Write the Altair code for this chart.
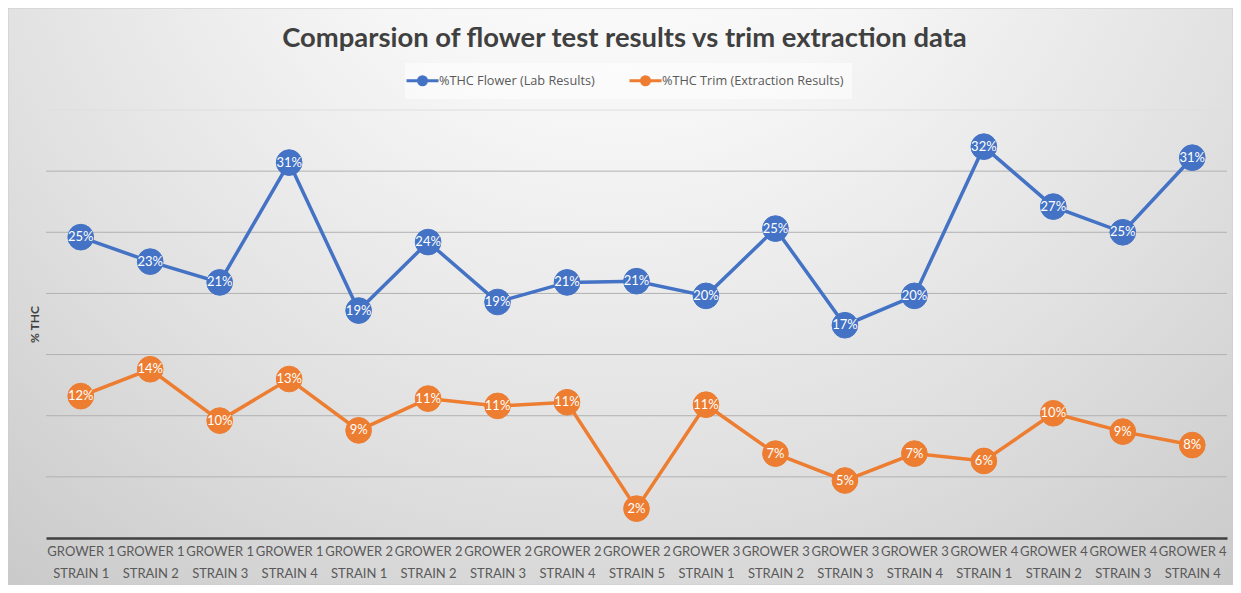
import altair as alt
import pandas as pd

# ---- data ----
growers = ["GROWER 1"] * 4 + ["GROWER 2"] * 5 + ["GROWER 3"] * 4 + ["GROWER 4"] * 4
strains = ["STRAIN 1", "STRAIN 2", "STRAIN 3", "STRAIN 4",
           "STRAIN 1", "STRAIN 2", "STRAIN 3", "STRAIN 4", "STRAIN 5",
           "STRAIN 1", "STRAIN 2", "STRAIN 3", "STRAIN 4",
           "STRAIN 1", "STRAIN 2", "STRAIN 3", "STRAIN 4"]
flower = [24.6, 22.6, 20.9, 30.7, 18.6, 24.2, 19.3, 20.9, 21.0, 19.8,
          25.3, 17.4, 19.8, 32.0, 27.1, 25.0, 31.1]
trim = [11.6, 13.8, 9.6, 13.0, 8.8, 11.4, 10.8, 11.1, 2.4, 10.9,
        6.9, 4.7, 6.9, 6.3, 10.2, 8.7, 7.6]
series_names = ["%THC Flower (Lab Results)", "%THC Trim (Extraction Results)"]
series_colors = ["#4472C4", "#ED7D31"]
grid_values = [5, 10, 15, 20, 25, 30, 35]
title_text = "Comparsion of flower test results vs trim extraction data"

categories = [f"{g}|{s}" for g, s in zip(growers, strains)]
n = len(categories)
df = pd.DataFrame({
    "category": categories * 2,
    "series": [series_names[0]] * n + [series_names[1]] * n,
    "value": flower + trim,
})
grid_df = pd.DataFrame({"g": grid_values})
bg_df = pd.DataFrame({"bg": [0]})

W, H = 1181, 428
PAD = {"left": 38, "top": 102, "right": 6, "bottom": 47}

y_scale = alt.Scale(domain=[0, 35], nice=False, zero=True)
y_axis = alt.Axis(title="% THC", labels=False, ticks=False, domain=False, grid=False,
                  titleFont="Lato", titleFontSize=12, titleFontWeight="bold",
                  titleColor="#404040", titlePadding=5, zindex=1)
x_enc = alt.X("category:N", sort=categories,
              scale=alt.Scale(type="point", padding=0.5),
              axis=alt.Axis(title=None, labelExpr="split(datum.label, '|')", labelAngle=0,
                            ticks=False, domainColor="#404040", domainWidth=2.5,
                            labelColor="#595959", labelFont="Lato", labelFontSize=13,
                            labelPadding=7, labelLineHeight=22, labelOverlap=False,
                            labelLimit=200, zindex=1))

color_scale = alt.Scale(domain=series_names, range=series_colors)
# line segment with a dot, drawn wider than its layout box
legend_path = ("M-2,0L2,0M-0.5,0A0.5,0.5,0,1,1,0.5,0"
               "A0.5,0.5,0,1,1,-0.5,0Z")
legend = alt.Legend(title=None, orient="none", legendX=359, legendY=-47,
                    direction="horizontal", symbolType=legend_path, symbolSize=256,
                    symbolStrokeWidth=3, labelFont="Open Sans", labelFontSize=12.7,
                    labelColor="#595959", columnPadding=28, padding=8,
                    fillColor="rgba(255,255,255,0.5)", labelOffset=7,
                    labelLimit=400, zindex=1)

gradient = {
    "gradient": "radial",
    "x1": 0.5, "y1": 0.1, "r1": 0,
    "x2": 0.5, "y2": 0.1, "r2": 0.85,
    "stops": [
        {"offset": 0, "color": "#ffffff"},
        {"offset": 0.3, "color": "#f6f6f6"},
        {"offset": 0.65, "color": "#e0e0e0"},
        {"offset": 1, "color": "#c6c6c6"},
    ],
}

bg = alt.Chart(bg_df).mark_rect(fill=gradient, stroke="#cccccc", strokeWidth=1).encode(
    x=alt.value(-PAD["left"]), x2=alt.value(W + PAD["right"]),
    y=alt.value(-PAD["top"]), y2=alt.value(H + PAD["bottom"]),
)

grid = alt.Chart(grid_df).mark_rule(strokeWidth=1).encode(
    y=alt.Y("g:Q", scale=y_scale, axis=y_axis),
    color=alt.condition(alt.datum.g == 35, alt.value("#dedede"), alt.value("#b2b2b2")),
)

base = alt.Chart(df).encode(
    x=x_enc,
    y=alt.Y("value:Q", scale=y_scale, axis=y_axis),
)

lines = base.mark_line(strokeWidth=3.5).encode(
    stroke=alt.Stroke("series:N", scale=color_scale, legend=legend),
)
points = base.mark_circle(size=660, opacity=1, strokeWidth=1).encode(
    fill=alt.Fill("series:N", scale=color_scale, legend=legend),
    stroke=alt.Stroke("series:N", scale=color_scale, legend=legend),
)
labels = base.transform_calculate(
    label="round(datum.value) + '%'"
).mark_text(font="Lato", fontSize=13, color="white", align="center", baseline="middle").encode(
    text="label:N",
)

chart = alt.layer(bg, grid, lines, points, labels).properties(
    width=W, height=H,
    padding=PAD,
    autosize=alt.AutoSizeParams(type="none"),
    title=alt.TitleParams(title_text, font="Lato", fontSize=27.4, fontWeight="bold",
                          color="#404040", anchor="middle", offset=-45, dx=-12, zindex=1),
    background="white",
).configure_view(strokeWidth=0)

chart.save("out.html", embed_options={"renderer": "svg", "actions": False})
